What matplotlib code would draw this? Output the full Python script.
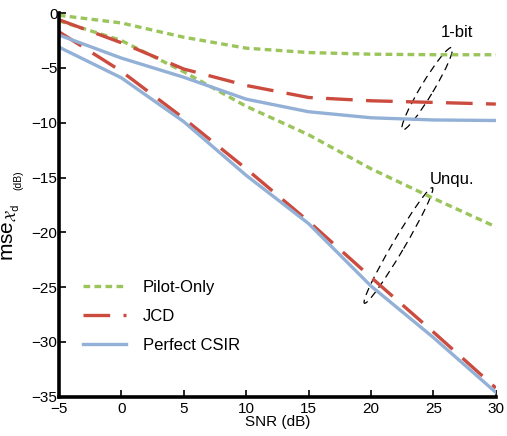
import matplotlib
matplotlib.use('Agg')
import matplotlib.pyplot as plt
import matplotlib.transforms as mtransforms
from matplotlib.patches import Ellipse

plt.rcParams['font.family'] = ['Liberation Sans', 'DejaVu Sans']
plt.rcParams['mathtext.fontset'] = 'dejavusans'

# SNR grid (dB)
snr = [-5, 0, 5, 10, 15, 20, 25, 30]

# 1-bit quantized receivers
pilot_1bit = [-0.2, -0.9, -2.2, -3.2, -3.6, -3.75, -3.8, -3.8]
jcd_1bit = [-0.6, -2.7, -5.1, -6.6, -7.7, -8.0, -8.15, -8.3]
csir_1bit = [-2.0, -4.1, -5.85, -7.85, -9.0, -9.55, -9.75, -9.8]

# unquantized receivers
pilot_unq = [-0.7, -2.5, -5.35, -8.5, -11.1, -14.2, -16.9, -19.5]
jcd_unq = [-1.7, -5.3, -9.6, -14.2, -19.0, -24.1, -29.1, -34.2]
csir_unq = [-3.1, -5.9, -9.9, -14.8, -19.2, -24.9, -29.6, -34.6]

green = '#9bc45a'
red = '#cc4b3f'
blue = '#93b1d6'

fig = plt.figure(figsize=(5.07, 4.36), dpi=100)
ax = fig.add_axes([0.116, 0.09, 0.862, 0.88])

lw = 2.4
ax.plot(snr, pilot_1bit, color=green, lw=lw, dashes=(2.0, 1.3), label='Pilot-Only')
ax.plot(snr, pilot_unq, color=green, lw=lw, dashes=(2.0, 1.3))
ax.plot(snr, jcd_1bit, color=red, lw=lw, dashes=(8, 4), label='JCD')
ax.plot(snr, jcd_unq, color=red, lw=lw, dashes=(8, 4))
ax.plot(snr, csir_1bit, color=blue, lw=lw, label='Perfect CSIR')
ax.plot(snr, csir_unq, color=blue, lw=lw)

ax.set_xlim(-5, 30)
ax.set_ylim(-35, 0)
ax.set_xticks([-5, 0, 5, 10, 15, 20, 25, 30])
ax.set_yticks([0, -5, -10, -15, -20, -25, -30, -35])
ax.tick_params(direction='in', length=5, width=1.2, labelsize=11)
ax.tick_params(axis='x', pad=4)
ax.tick_params(axis='y', pad=1)
for s in ['top', 'right']:
    ax.spines[s].set_visible(False)
for s in ['left', 'bottom']:
    ax.spines[s].set_linewidth(2.6)

ax.set_xlabel('SNR (dB)', fontsize=11, labelpad=-1)
ax.set_ylabel(r'mse$_{\mathcal{X}_\mathrm{d}}$', fontsize=15)
ax.yaxis.set_label_coords(-0.085, 0.43)
fig.text(18 / 507, 1 - 180 / 436, '(dB)', rotation=90, fontsize=7.5,
         ha='center', va='center')

# dashed ellipses grouping the curves
def group_ellipse(cx, cy, length_px, width_px, angle):
    tr = fig.dpi_scale_trans + mtransforms.ScaledTranslation(cx, cy, ax.transData)
    e = Ellipse((0, 0), length_px / fig.dpi, width_px / fig.dpi, angle=angle,
                transform=tr, fill=False, ls=(0, (6, 4)), lw=0.9, color='black')
    ax.add_patch(e)

group_ellipse(24.5, -6.9, 96, 13, 59)
group_ellipse(22.2, -21.2, 134, 12, 59.5)
ax.text(26.9, -1.75, '1-bit', fontsize=12, ha='center', va='center')
ax.text(26.5, -15.2, 'Unqu.', fontsize=12, ha='center', va='center')

ax.legend(loc='lower left', bbox_to_anchor=(0.02, 0.075), frameon=False, fontsize=12,
          handlelength=2.6, handletextpad=1.0, labelspacing=0.85)

fig.savefig('out.png', dpi=100)
